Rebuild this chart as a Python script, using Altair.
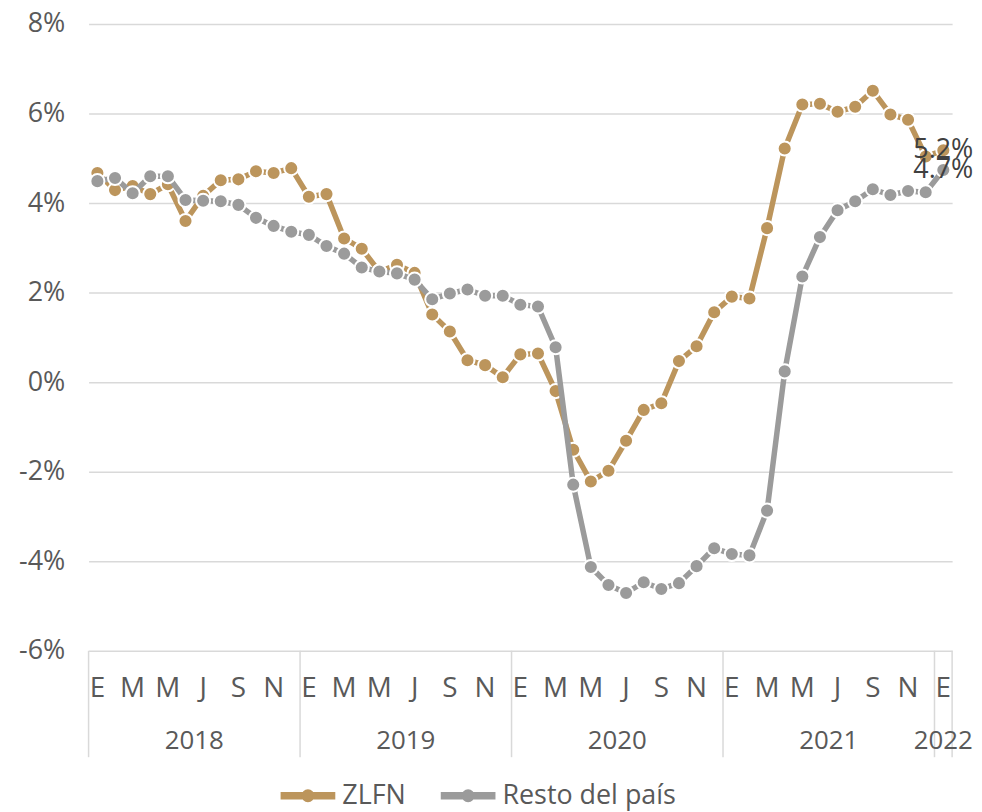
import altair as alt
import pandas as pd

# Monthly data, Jan 2018 .. Jan 2022 (49 months)
zlfn = [4.67, 4.29, 4.38, 4.20, 4.42, 3.60, 4.16, 4.51, 4.53, 4.71, 4.67, 4.78,
        4.14, 4.20, 3.21, 2.98, 2.47, 2.62, 2.44, 1.51, 1.13, 0.49, 0.38, 0.11,
        0.62, 0.64, -0.20, -1.51, -2.22, -1.98, -1.31, -0.62, -0.47, 0.47, 0.80, 1.56,
        1.91, 1.87, 3.44, 5.22, 6.20, 6.22, 6.04, 6.15, 6.51, 5.98, 5.86, 5.04,
        5.18]
resto = [4.49, 4.56, 4.22, 4.60, 4.60, 4.07, 4.05, 4.04, 3.96, 3.67, 3.49, 3.36,
         3.29, 3.04, 2.87, 2.56, 2.47, 2.43, 2.29, 1.85, 1.98, 2.07, 1.93, 1.93,
         1.73, 1.69, 0.78, -2.29, -4.13, -4.53, -4.71, -4.47, -4.62, -4.49, -4.11, -3.71,
         -3.84, -3.87, -2.87, 0.24, 2.36, 3.24, 3.84, 4.04, 4.31, 4.18, 4.27, 4.24,
         4.74]
series_names = ["ZLFN", "Resto del país"]
colors = ["#BC955C", "#9B9B9B"]
years = ["2018", "2019", "2020", "2021", "2022"]
year_centers = [5.5, 17.5, 29.5, 41.5, 48]
year_bounds = [-0.5, 11.5, 23.5, 35.5, 47.5, 48.5]
month_letters = ["E", "F", "M", "A", "M", "J", "J", "A", "S", "O", "N", "D"]
y_ticks = [-6, -4, -2, 0, 2, 4, 6, 8]

W, H = 868, 630
FONT = "Open Sans"
TXT = "#595959"

df = pd.DataFrame({
    "idx": list(range(len(zlfn))) * 2,
    "serie": [series_names[0]] * len(zlfn) + [series_names[1]] * len(resto),
    "val": zlfn + resto,
})
last = pd.DataFrame({
    "idx": [len(zlfn) - 1, len(resto) - 1],
    "serie": series_names,
    "val": [zlfn[-1], resto[-1]],
})
last["lab"] = [f"{v:.1f}%" for v in last["val"]]

month_ticks = list(range(0, 49, 2))
months_df = pd.DataFrame({"idx": month_ticks,
                          "m": [month_letters[i % 12] for i in month_ticks]})

xscale = alt.Scale(domain=[-0.5, 48.5], nice=False, zero=False)
yscale = alt.Scale(domain=[-6, 8], nice=False, zero=False)
yaxis = alt.Axis(values=y_ticks, labelExpr="datum.value + '%'", ticks=False, domain=False,
                 grid=True, gridColor="#D9D9D9", gridWidth=1.5, labelFontSize=27,
                 labelColor=TXT, labelPadding=24, title=None)

sym_path = ("M-2,-0.2L2,-0.2L2,0.2L-2,0.2Z "
            "M0.42,0A0.42,0.42,0,1,1,-0.42,0A0.42,0.42,0,1,1,0.42,0Z")
color_enc = alt.Color("serie:N", scale=alt.Scale(domain=series_names, range=colors),
                      legend=alt.Legend(title=None, orient="none", direction="horizontal",
                                        legendX=206, legendY=761,
                                        symbolType=sym_path, symbolSize=702,
                                        symbolStrokeWidth=2, labelOffset=20,
                                        labelFontSize=27, labelColor=TXT, labelLimit=0,
                                        columnPadding=32, symbolOpacity=1))

layers = []
for i, s in enumerate(series_names):
    d = df[df["serie"] == s]
    line = alt.Chart(d).mark_line(strokeWidth=5.5).encode(
        x=alt.X("idx:Q", scale=xscale, axis=None),
        y=alt.Y("val:Q", scale=yscale, axis=yaxis),
        color=color_enc,
    )
    pts = alt.Chart(d).mark_point(filled=True, size=200, stroke="white",
                                  strokeWidth=2, opacity=1).encode(
        x=alt.X("idx:Q", scale=xscale, axis=None),
        y=alt.Y("val:Q", scale=yscale, axis=yaxis),
        color=color_enc,
    )
    layers += [line, pts]

bounds = alt.Chart(pd.DataFrame({"b": year_bounds})).mark_rule(
    color="#D9D9D9", strokeWidth=1.5).encode(
    x=alt.X("b:Q", scale=xscale, axis=None), y=alt.value(H), y2=alt.value(H + 107))

mons = alt.Chart(months_df).mark_text(
    fontSize=28, color=TXT, baseline="middle", align="center").encode(
    x=alt.X("idx:Q", scale=xscale, axis=None), y=alt.value(H + 38), text="m:N")

yrs = alt.Chart(pd.DataFrame({"c": year_centers, "year": years})).mark_text(
    fontSize=26, color=TXT, baseline="middle", align="center").encode(
    x=alt.X("c:Q", scale=xscale, axis=None), y=alt.value(H + 91), text="year:N")

end_labels = alt.Chart(last).mark_text(fontSize=27, color="#404040",
                                       baseline="middle", align="center").encode(
    x=alt.X("idx:Q", scale=xscale, axis=None), y=alt.Y("val:Q", scale=yscale, axis=yaxis),
    text="lab:N")

chart = alt.layer(bounds, mons, yrs, *layers, end_labels).properties(
    width=W, height=H, padding={"left": 10, "top": 0, "right": 0, "bottom": 0}
).configure(font=FONT).configure_view(stroke=None)

chart.save("out.html", embed_options={"renderer": "svg", "actions": False})
